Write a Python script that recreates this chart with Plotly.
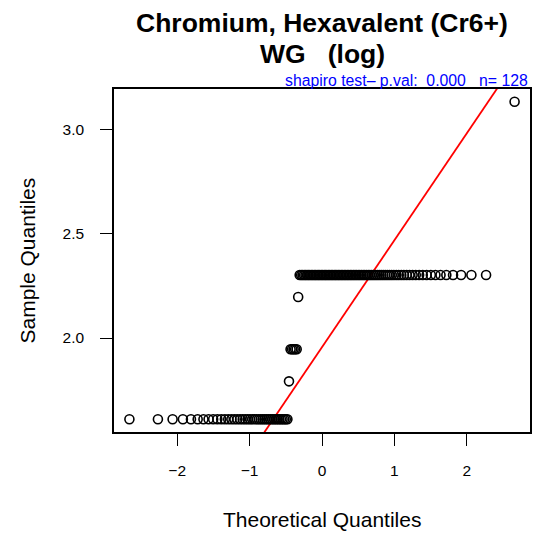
import numpy as np
import plotly.graph_objects as go
from statistics import NormalDist

# ---- data ----
sample_levels = [5, 6, 7, 9, 10, 23]        # concentrations, plotted as natural log
sample_counts = [41, 1, 5, 1, 79, 1]        # number of observations at each level
x_ticks = [-2, -1, 0, 1, 2]
y_ticks = [2.0, 2.5, 3.0]
title_line1 = "Chromium, Hexavalent (Cr6+)"
title_line2 = "WG   (log)"
subtitle = "shapiro test\u2013 p.val:  0.000   n= 128"

# ---- qq computation (as R qqnorm / qqline) ----
y = np.sort(np.log(np.repeat(sample_levels, sample_counts)))
n = len(y)
a = 3 / 8 if n <= 10 else 0.5
p = (np.arange(1, n + 1) - a) / (n + 1 - 2 * a)
nd = NormalDist()
x = np.array([nd.inv_cdf(v) for v in p])

q_y = np.percentile(y, [25, 75])
q_x = np.array([nd.inv_cdf(0.25), nd.inv_cdf(0.75)])
slope = (q_y[1] - q_y[0]) / (q_x[1] - q_x[0])
inter = q_y[0] - slope * q_x[0]

def pad(lo, hi):
    d = (hi - lo) * 0.04
    return [lo - d, hi + d]

xr = pad(x.min(), x.max())
yr = pad(y.min(), y.max())

FONT = "Liberation Sans, Arial, Helvetica, sans-serif"

fig = go.Figure()
fig.add_trace(go.Scatter(
    x=xr, y=[inter + slope * xr[0], inter + slope * xr[1]],
    mode="lines", line=dict(color="#ff0000", width=1.8),
    hoverinfo="skip", showlegend=False))
fig.add_trace(go.Scatter(
    x=x, y=y, mode="markers",
    marker=dict(symbol="circle-open", size=9, color="black",
                line=dict(color="black", width=1.6)),
    showlegend=False, cliponaxis=False))

axis_common = dict(showgrid=False, zeroline=False, showline=True, mirror=True,
                   linecolor="black", linewidth=1.5, ticks="outside",
                   ticklen=12, tickwidth=1.3, tickcolor="black",
                   tickfont=dict(family=FONT, size=15.5, color="black"))

fig.update_layout(
    width=537, height=533,
    margin=dict(l=114, r=5, t=89, b=101),
    paper_bgcolor="white", plot_bgcolor="white",
    xaxis=dict(range=xr, tickvals=x_ticks,
               ticktext=[str(v).replace("-", "\u2212") for v in x_ticks],
               ticklabelstandoff=12, **axis_common),
    yaxis=dict(range=yr, tickvals=y_ticks, tickformat=".1f",
               ticklabelstandoff=13, **axis_common),
    font=dict(family=FONT, color="black"),
    annotations=[
        dict(text="<b>" + title_line1 + "</b>", xref="paper", yref="paper",
             x=0.5, y=1, xanchor="center", yanchor="middle", yshift=66,
             showarrow=False, font=dict(size=26.5, family=FONT, color="black")),
        dict(text="<b>" + title_line2 + "</b>", xref="paper", yref="paper",
             x=0.5, y=1, xanchor="center", yanchor="middle", yshift=35,
             showarrow=False, font=dict(size=26.5, family=FONT, color="black")),
        dict(text=subtitle, xref="paper", yref="paper",
             x=1, y=1, xanchor="right", yanchor="middle", yshift=9,
             showarrow=False, font=dict(size=15.8, family=FONT, color="#0000ff")),
        dict(text="Theoretical Quantiles", xref="paper", yref="paper",
             x=0.5, y=0, xanchor="center", yanchor="middle", yshift=-87,
             showarrow=False, font=dict(size=21, family=FONT, color="black")),
        dict(text="Sample Quantiles", xref="paper", yref="paper",
             x=0, y=0.5, xanchor="center", yanchor="middle", xshift=-87,
             textangle=-90,
             showarrow=False, font=dict(size=21, family=FONT, color="black")),
    ],
)

fig.write_html("out.html", config={"displayModeBar": False},
               post_script="document.body.style.margin='0';document.body.style.padding='0';")
